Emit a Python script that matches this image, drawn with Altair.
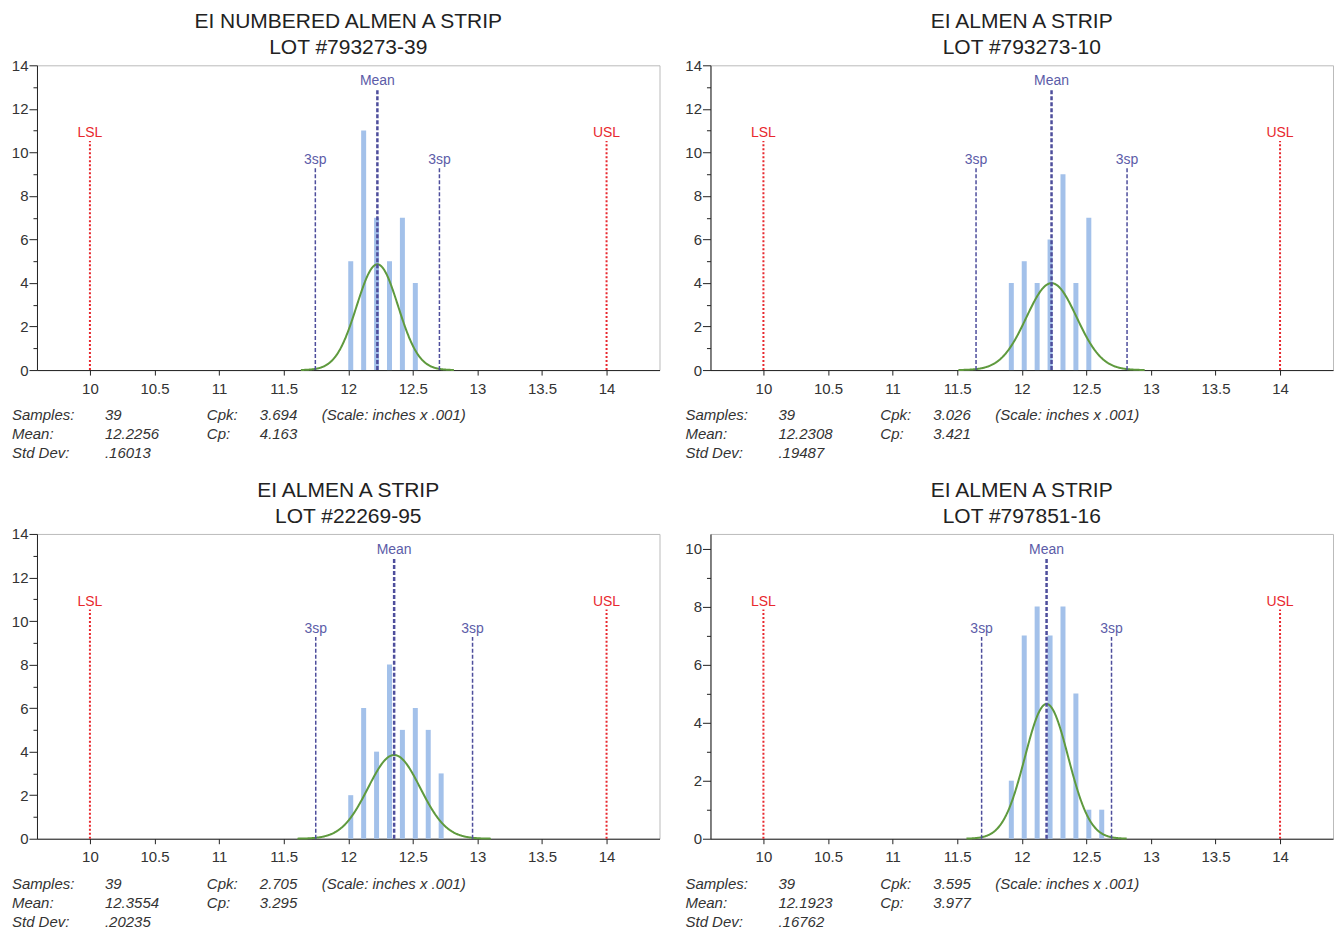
import altair as alt
import pandas as pd

# ---------------- data ----------------
titles = [
    ["EI NUMBERED ALMEN A STRIP", "LOT #793273-39"],
    ["EI ALMEN A STRIP", "LOT #793273-10"],
    ["EI ALMEN A STRIP", "LOT #22269-95"],
    ["EI ALMEN A STRIP", "LOT #797851-16"],
]

bins_1 = [12.0, 12.1, 12.2, 12.3, 12.4, 12.5]
counts_1 = [5, 11, 7, 5, 7, 4]
bins_2 = [11.9, 12.0, 12.1, 12.2, 12.3, 12.4, 12.5]
counts_2 = [4, 5, 4, 6, 9, 4, 7]
bins_3 = [12.0, 12.1, 12.2, 12.3, 12.4, 12.5, 12.6, 12.7]
counts_3 = [2, 6, 4, 8, 5, 6, 5, 3]
bins_4 = [11.9, 12.0, 12.1, 12.2, 12.3, 12.4, 12.5, 12.6]
counts_4 = [2, 7, 8, 7, 8, 5, 1, 1]

samples = [39, 39, 39, 39]
means = [12.2256, 12.2308, 12.3554, 12.1923]
std_devs = [0.16013, 0.19487, 0.20235, 0.16762]
mean_text = ["12.2256", "12.2308", "12.3554", "12.1923"]
std_text = [".16013", ".19487", ".20235", ".16762"]
cpk_text = ["3.694", "3.026", "2.705", "3.595"]
cp_text = ["4.163", "3.421", "3.295", "3.977"]
scale_note = "(Scale: inches x .001)"

lsl = 10
usl = 14
y_max = [14, 14, 14, 10.5]
x_domain = [9.59, 14.41]
x_ticks = [10, 10.5, 11, 11.5, 12, 12.5, 13, 13.5, 14]
curve_bin_width = 0.05  # scaling of the fitted normal curve

# ---------------- style ----------------
W, H = 623, 305
FONT = "Liberation Sans"
BAR = "#a3c1ea"
GREEN = "#5f9a3e"
RED = "#e8282e"
BLUE = "#4e4e9c"
LABEL_BLUE = "#5c5ca8"
TXT = "#333333"
title_offsets = [0, 0, 0, 7]

all_bins = [bins_1, bins_2, bins_3, bins_4]
all_counts = [counts_1, counts_2, counts_3, counts_4]


def panel(i):
    ymax = y_max[i]
    mean, sd, n = means[i], std_devs[i], samples[i]
    x_scale = alt.Scale(domain=x_domain, nice=False, zero=False, padding=0)
    y_scale = alt.Scale(domain=[0, ymax], nice=False, zero=True, padding=0)
    x_axis = alt.Axis(values=x_ticks, format="~g", title=None, tickSize=5,
                      labelPadding=6, domainColor="#222", tickColor="#222")
    y_vals = list(range(0, int(ymax) + 1))
    y_axis = alt.Axis(values=y_vals, title=None,
                      labelExpr="datum.value % 2 == 0 ? datum.label : ''",
                      tickSize={"condition": {"test": "datum.value % 2 == 0", "value": 8},
                                "value": 4},
                      labelPadding=1, domainColor="#222", tickColor="#222")

    def X(f):
        return alt.X(f, scale=x_scale, axis=x_axis, title=None)

    def Y(f):
        return alt.Y(f, scale=y_scale, axis=y_axis, title=None)

    bars_df = pd.DataFrame({"value": all_bins[i], "count": all_counts[i]})
    bars = alt.Chart(bars_df).mark_bar(width=5, xOffset=2.5, color=BAR).encode(
        x=X("value:Q"), y=Y("count:Q"))

    curve = (
        alt.Chart(alt.sequence(-3.7, 3.7001, 0.02, as_="z"))
        .transform_calculate(
            xv=f"{mean} + datum.z * {sd}",
            yv=f"{n} * {curve_bin_width} * exp(-datum.z * datum.z / 2) / ({sd} * sqrt(2 * PI))",
        )
        .mark_line(color=GREEN, strokeWidth=2)
        .encode(x=X("xv:Q"), y=Y("yv:Q"))
    )

    spec_df = pd.DataFrame({"x": [lsl, usl], "label": ["LSL", "USL"]})
    sig_df = pd.DataFrame({"x": [mean - 3 * sd, mean + 3 * sd], "label": ["3sp", "3sp"]})
    mean_df = pd.DataFrame({"x": [mean], "label": ["Mean"]})

    def ref(df, frac, color, lcolor, dash, width):
        base = alt.Chart(df).transform_calculate(y0="0", ytop=f"{frac * ymax}")
        rule = base.mark_rule(color=color, strokeDash=dash, strokeWidth=width).encode(
            x=X("x:Q"), y=Y("y0:Q"), y2="ytop:Q")
        lab = base.mark_text(color=lcolor, font=FONT, fontSize=14, baseline="bottom",
                             dy=-1).encode(x=X("x:Q"), y=Y("ytop:Q"), text="label:N")
        return [rule, lab]

    layers = [bars, curve]
    layers += ref(spec_df, 0.752, RED, RED, [2, 2], 2)
    layers += ref(sig_df, 0.662, BLUE, LABEL_BLUE, [4, 2], 1.5)
    layers += ref(mean_df, 0.922, BLUE, LABEL_BLUE, [4, 2], 2.5)

    one = pd.DataFrame({"d": [0]})

    def stat(xpos, lines):
        return alt.Chart(one).mark_text(
            align="left", baseline="middle", fontStyle="italic", font=FONT,
            fontSize=15, lineHeight=19, color=TXT).encode(
            x=alt.value(xpos), y=alt.value(H + 45), text=alt.value(lines))

    layers += [
        stat(-25, ["Samples:", "Mean:", "Std Dev:"]),
        stat(68, [str(n), mean_text[i], std_text[i]]),
        stat(170, ["Cpk:", "Cp:"]),
        stat(223, [cpk_text[i], cp_text[i]]),
        stat(285, [scale_note]),
    ]

    return alt.layer(*layers).properties(
        width=W, height=H,
        title=alt.TitleParams(text=titles[i], font=FONT, fontSize=21,
                              fontWeight="normal", color="#222", lineHeight=26,
                              anchor="middle", frame="group",
                              offset=title_offsets[i]),
    )


chart = alt.concat(
    panel(0), panel(1), panel(2), panel(3),
    columns=2, spacing={"row": 164, "column": 51}, bounds="flush",
).properties(
    padding={"left": 2, "top": 2, "right": 0, "bottom": 0}
).configure_view(stroke="#bbbbbb").configure_axis(
    grid=False, labelFont=FONT, labelFontSize=15, labelColor=TXT
)

chart.save("out.html", embed_options={"renderer": "svg", "actions": False})
